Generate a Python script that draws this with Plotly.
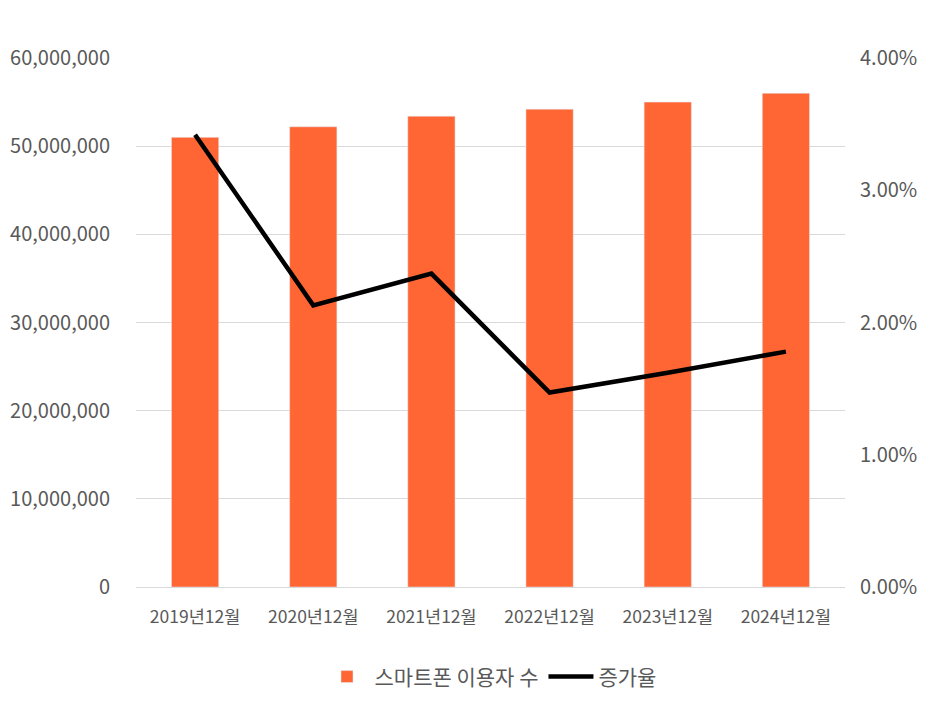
import plotly.graph_objects as go

categories = ['2019년12월', '2020년12월', '2021년12월', '2022년12월', '2023년12월', '2024년12월']
users = [51000000, 52200000, 53400000, 54200000, 55000000, 56000000]
growth = [0.0342, 0.0213, 0.0237, 0.0147, 0.0162, 0.0178]

font_family = 'Noto Sans CJK KR, Noto Sans, sans-serif'

fig = go.Figure()
fig.add_trace(go.Bar(x=categories, y=users, name='스마트폰 이용자 수',
                     marker_color='#FF6633', yaxis='y'))
fig.add_trace(go.Scatter(x=categories, y=growth, name='증가율', mode='lines',
                         line=dict(color='black', width=4.5), yaxis='y2'))

# page body adds ~8px offset, margins compensate for it
fig.update_layout(
    width=940, height=714,
    margin=dict(l=128, r=103, t=50, b=135),
    paper_bgcolor='white', plot_bgcolor='white',
    font=dict(family=font_family, size=20, color='#595959'),
    bargap=0.6,
    showlegend=True,
    legend=dict(orientation='h', x=0.5, xanchor='center', y=-0.17, yanchor='middle',
                itemwidth=45, font=dict(size=21, color='#595959')),
    xaxis=dict(showgrid=False, showline=True, linecolor='#d9d9d9', ticks='',
               tickfont=dict(size=17.5), automargin=False, ticklabelstandoff=14),
    yaxis=dict(range=[0, 60000000], dtick=10000000, tickformat=',',
               gridcolor='#d9d9d9', zeroline=False, ticks='', ticklabelstandoff=25,
               automargin=False),
    yaxis2=dict(range=[0, 0.04], dtick=0.01, tickformat='.2%', overlaying='y',
                side='right', showgrid=False, zeroline=False, ticks='',
                ticklabelstandoff=14, automargin=False),
)

fig.write_html("out.html")
